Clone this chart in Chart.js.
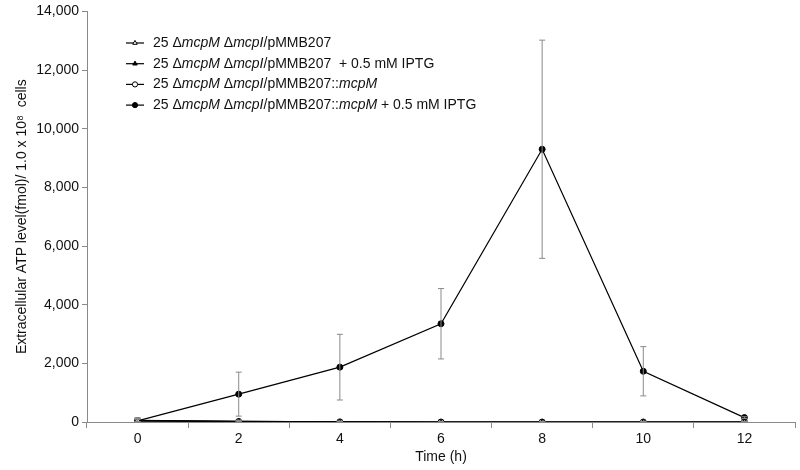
<!DOCTYPE html>
<html>
<head>
<meta charset="utf-8">
<script src="https://cdn.jsdelivr.net/npm/chart.js@4.4.1/dist/chart.umd.min.js"></script>
<style>
  html, body { margin: 0; padding: 0; background: #fff; }
  #wrap { width: 800px; height: 470px; }
</style>
</head>
<body>
<div id="wrap"><canvas id="myChart" width="800" height="470"></canvas></div>
<script>
// time points (h)
const times = ['0', '2', '4', '6', '8', '10', '12'];

// extracellular ATP per strain (fmol / 1.0 x 10^8 cells)
const ctrlNoIptg = [60, 25, 5, 0, 0, 0, 0];
const ctrlIptg = [30, 15, 5, 0, 0, 0, 0];
const mcpMNoIptg = [50, 20, 5, 0, 0, 0, 0];
const mcpMIptg = [40, 950, 1870, 3350, 9300, 1730, 150];

// standard deviations
const ctrlNoIptgErr = [90, 30, 15, 10, 10, 10, 10];
const ctrlIptgErr = [60, 20, 15, 10, 10, 10, 10];
const mcpMNoIptgErr = [70, 25, 15, 10, 10, 10, 10];
const mcpMIptgErr = [80, 750, 1120, 1200, 3720, 840, 30];

// legend labels, split into [text, italic] pieces
const legendLabels = [
    [['25 Δ', false], ['mcpM', true], [' Δ', false], ['mcpI', true], ['/pMMB207', false]],
    [['25 Δ', false], ['mcpM', true], [' Δ', false], ['mcpI', true], ['/pMMB207  + 0.5 mM IPTG', false]],
    [['25 Δ', false], ['mcpM', true], [' Δ', false], ['mcpI', true], ['/pMMB207::', false], ['mcpM', true]],
    [['25 Δ', false], ['mcpM', true], [' Δ', false], ['mcpI', true], ['/pMMB207::', false], ['mcpM', true], [' + 0.5 mM IPTG', false]]
];

const yTicks = [0, 2000, 4000, 6000, 8000, 10000, 12000, 14000];

const FONT = 'Liberation Sans, Arial, sans-serif';

// error bars drawn through the chart scales
const errorBars = {
    id: 'errorBars',
    afterDatasetsDraw(chart) {
        const ctx = chart.ctx;
        const y = chart.scales.y;
        ctx.save();
        ctx.strokeStyle = '#8a8a8a';
        ctx.lineWidth = 1;
        chart.data.datasets.forEach((ds, i) => {
            const meta = chart.getDatasetMeta(i);
            meta.data.forEach((pt, j) => {
                const e = ds.errors[j];
                if (!e) return;
                const top = y.getPixelForValue(ds.data[j] + e);
                const bot = y.getPixelForValue(Math.max(ds.data[j] - e, 0));
                ctx.beginPath();
                ctx.moveTo(pt.x, top); ctx.lineTo(pt.x, bot);
                ctx.moveTo(pt.x - 3, top); ctx.lineTo(pt.x + 3, top);
                ctx.moveTo(pt.x - 3, bot); ctx.lineTo(pt.x + 3, bot);
                ctx.stroke();
            });
        });
        ctx.restore();
    }
};

// legend with italic gene names
const richLegend = {
    id: 'richLegend',
    afterDraw(chart) {
        const ctx = chart.ctx;
        const x0 = 126, y0 = 43, gap = 20.7;
        ctx.save();
        chart.data.datasets.forEach((ds, i) => {
            const yy = y0 + i * gap;
            ctx.strokeStyle = '#000';
            ctx.lineWidth = 1.2;
            ctx.beginPath();
            ctx.moveTo(x0, yy); ctx.lineTo(x0 + 18, yy);
            ctx.stroke();
            ctx.fillStyle = ds.pointBackgroundColor;
            ctx.lineWidth = 1;
            Chart.helpers.drawPoint(ctx, {
                pointStyle: ds.pointStyle, radius: 2.6, borderWidth: 1
            }, x0 + 9, yy);
            let x = x0 + 27;
            ctx.fillStyle = '#111';
            ctx.textBaseline = 'middle';
            legendLabels[i].forEach(([t, it]) => {
                ctx.font = (it ? 'italic ' : '') + '14px ' + FONT;
                ctx.fillText(t, x, yy);
                x += ctx.measureText(t).width;
            });
        });
        ctx.restore();
    }
};

function series(label, data, errors, style, fill) {
    return {
        label: label,
        data: data,
        errors: errors,
        borderColor: '#000',
        borderWidth: 1.2,
        pointStyle: style,
        pointRadius: style === 'circle' ? 3 : 2.8,
        pointBorderWidth: 1,
        pointBorderColor: '#000',
        pointBackgroundColor: fill,
        tension: 0,
        fill: false
    };
}

new Chart('myChart', {
    type: 'line',
    data: {
        labels: times,
        datasets: [
            series('ctrl', ctrlNoIptg, ctrlNoIptgErr, 'triangle', '#fff'),
            series('ctrl IPTG', ctrlIptg, ctrlIptgErr, 'triangle', '#000'),
            series('mcpM', mcpMNoIptg, mcpMNoIptgErr, 'circle', '#fff'),
            series('mcpM IPTG', mcpMIptg, mcpMIptgErr, 'circle', '#000')
        ]
    },
    options: {
        responsive: false,
        animation: false,
        layout: { padding: { top: 7, right: 2, left: 0, bottom: 0 } },
        plugins: {
            legend: { display: false },
            tooltip: { enabled: false }
        },
        scales: {
            x: {
                type: 'category',
                offset: true,
                afterFit: s => { s.height = 48; },
                border: { color: '#8a8a8a', width: 1 },
                grid: { offset: true, drawOnChartArea: false, tickLength: 6, color: '#8a8a8a' },
                ticks: { color: '#111', font: { family: FONT, size: 14 }, padding: 3 },
                title: {
                    display: true, text: 'Time (h)', color: '#111',
                    font: { family: FONT, size: 14 }, padding: { top: 0, bottom: 4 }
                }
            },
            y: {
                min: 0,
                max: 14000,
                afterFit: s => { s.width = 87; },
                afterBuildTicks: s => { s.ticks = yTicks.map(v => ({ value: v })); },
                border: { color: '#8a8a8a', width: 1 },
                grid: { drawOnChartArea: false, tickLength: 5, color: '#8a8a8a' },
                ticks: {
                    color: '#111', font: { family: FONT, size: 14 }, padding: 3,
                    callback: v => v.toLocaleString('en-US')
                },
                title: {
                    display: true, text: 'Extracellular ATP level(fmol)/ 1.0 x 10⁸  cells', color: '#111',
                    font: { family: FONT, size: 14 }, padding: { top: 14, bottom: 0 }
                }
            }
        }
    },
    plugins: [errorBars, richLegend]
});
</script>
</body>
</html>
